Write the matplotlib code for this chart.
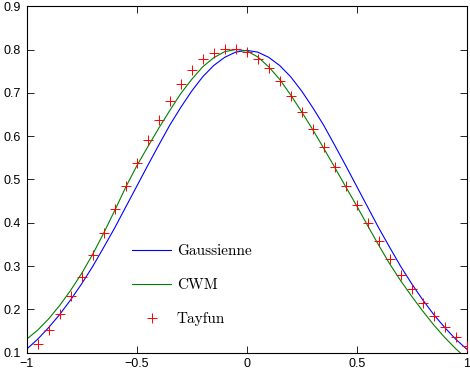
import matplotlib
matplotlib.use('Agg')
import matplotlib.pyplot as plt

x_curve = [-1.0, -0.95, -0.9, -0.85, -0.8, -0.75, -0.7, -0.65, -0.6, -0.55,
           -0.5, -0.45, -0.4, -0.35, -0.3, -0.25, -0.2, -0.15, -0.1, -0.05,
           0.0, 0.05, 0.1, 0.15, 0.2, 0.25, 0.3, 0.35, 0.4, 0.45,
           0.5, 0.55, 0.6, 0.65, 0.7, 0.75, 0.8, 0.85, 0.9, 0.95, 1.0]

gauss_y = [0.108, 0.131, 0.158, 0.188, 0.222, 0.259, 0.299, 0.343, 0.388, 0.436,
           0.484, 0.532, 0.579, 0.625, 0.666, 0.704, 0.737, 0.763, 0.782, 0.794,
           0.798, 0.794, 0.782, 0.763, 0.737, 0.704, 0.666, 0.625, 0.579, 0.532,
           0.484, 0.436, 0.388, 0.343, 0.299, 0.259, 0.222, 0.188, 0.158, 0.131, 0.108]

cwm_y = [0.131, 0.152, 0.178, 0.209, 0.244, 0.283, 0.327, 0.376, 0.428, 0.482,
         0.531, 0.575, 0.618, 0.659, 0.698, 0.731, 0.760, 0.781, 0.795, 0.800,
         0.797, 0.783, 0.760, 0.731, 0.695, 0.656, 0.615, 0.572, 0.528, 0.483,
         0.439, 0.393, 0.348, 0.305, 0.266, 0.230, 0.196, 0.164, 0.135, 0.109, 0.086]

x_tayfun = [-0.95, -0.9, -0.85, -0.8, -0.75, -0.7, -0.65, -0.6, -0.55, -0.5,
            -0.45, -0.4, -0.35, -0.3, -0.25, -0.2, -0.15, -0.1, -0.05, 0.0,
            0.05, 0.1, 0.15, 0.2, 0.25, 0.3, 0.35, 0.4, 0.45, 0.5,
            0.55, 0.6, 0.65, 0.7, 0.75, 0.8, 0.85, 0.9, 0.95, 1.0]

tayfun_y = [0.121, 0.152, 0.189, 0.231, 0.275, 0.325, 0.376, 0.431, 0.485, 0.538,
            0.590, 0.638, 0.682, 0.721, 0.753, 0.777, 0.793, 0.802, 0.802, 0.794,
            0.777, 0.757, 0.728, 0.693, 0.656, 0.616, 0.574, 0.529, 0.485, 0.442,
            0.399, 0.357, 0.317, 0.280, 0.246, 0.214, 0.185, 0.160, 0.137, 0.115]

x_ticks = [-1, -0.5, 0, 0.5, 1]
x_tick_labels = ['\u22121', '\u22120.5', '0', '0.5', '1']
y_ticks = [0.1, 0.2, 0.3, 0.4, 0.5, 0.6, 0.7, 0.8, 0.9]
y_tick_labels = ['0.1', '0.2', '0.3', '0.4', '0.5', '0.6', '0.7', '0.8', '0.9']

fig = plt.figure(figsize=(4.7, 3.74), dpi=100)
ax = fig.add_axes([0.0568, 0.0572, 0.9362, 0.9262])

ax.plot(x_curve, gauss_y, color=(0, 0, 1), lw=0.8, label='Gaussienne')
ax.plot(x_curve, cwm_y, color=(0, 0.5, 0), lw=0.8, label='CWM')
ax.plot(x_tayfun, tayfun_y, ls='none', marker='+', color='red',
        markersize=7, markeredgewidth=0.7, label='Tayfun', zorder=3)

ax.set_xlim(-1, 1)
ax.set_ylim(0.1, 0.9)
ax.set_xticks(x_ticks)
ax.set_xticklabels(x_tick_labels)
ax.set_yticks(y_ticks)
ax.set_yticklabels(y_tick_labels)
ax.tick_params(direction='in', top=True, right=True, length=5, width=0.6,
               labelsize=9, pad=4)
for lab in ax.get_xticklabels() + ax.get_yticklabels():
    lab.set_family('Liberation Sans')
for sp in ax.spines.values():
    sp.set_linewidth(0.8)

ax.legend(loc='upper left', bbox_to_anchor=(0.2386, 0.313), frameon=False,
          borderpad=0, borderaxespad=0, handlelength=2.6, handletextpad=0.35,
          labelspacing=1.33, numpoints=1,
          prop={'family': 'cmr10', 'size': 11})

fig.savefig('out.png', dpi=100)
